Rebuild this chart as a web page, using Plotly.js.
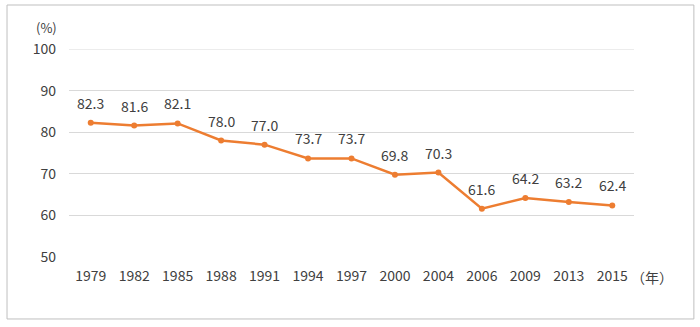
<!DOCTYPE html>
<html>
<head>
<meta charset="utf-8">
<script src="https://cdn.plot.ly/plotly-3.0.1.min.js"></script>
<style>
html,body{margin:0;padding:0;background:#fff;}
#chart{width:700px;height:327px;}
</style>
</head>
<body>
<div id="chart"></div>
<script>
const years = ['1979','1982','1985','1988','1991','1994','1997','2000','2004','2006','2009','2013','2015'];
const values = [82.3, 81.6, 82.1, 78.0, 77.0, 73.7, 73.7, 69.8, 70.3, 61.6, 64.2, 63.2, 62.4];
const yTicks = [50, 60, 70, 80, 90, 100];

const font = {family: '"Noto Sans CJK JP", "Noto Sans", sans-serif', size: 14, color: '#404040'};
const smallFont = {family: '"Noto Sans CJK JP", "Noto Sans", sans-serif', size: 13, color: '#404040'};

const trace = {
  x: years,
  y: values,
  type: 'scatter',
  mode: 'lines+markers',
  line: {color: '#ED7D31', width: 2.5},
  marker: {color: '#ED7D31', size: 6},
  hoverinfo: 'none'
};

const labels = years.map((yr, i) => ({
  x: i, y: values[i], xref: 'x', yref: 'y',
  text: values[i].toFixed(1), showarrow: false,
  yshift: 20, font: font
}));

const layout = {
  width: 700, height: 327,
  margin: {l: 69, r: 66, t: 49, b: 70},
  paper_bgcolor: '#fff', plot_bgcolor: '#fff',
  showlegend: false,
  font: font,
  xaxis: {
    type: 'category', range: [-0.5, years.length - 0.5], autorange: false,
    showgrid: false, zeroline: false, showline: false,
    ticks: '', tickfont: font, ticklabelstandoff: 9
  },
  yaxis: {
    range: [50, 100], autorange: false, tickvals: yTicks, showgrid: true, gridcolor: '#d9d9d9', gridwidth: 1,
    zeroline: false, showline: false, ticks: '', tickfont: font, ticklabelstandoff: 12
  },
  annotations: labels.concat([
    {xref: 'paper', yref: 'paper', x: -0.04, y: 1.105, xanchor: 'center', yanchor: 'middle',
     text: '(%)', showarrow: false, font: smallFont},
    {xref: 'paper', yref: 'paper', x: 1.032, y: -0.094, xanchor: 'center', yanchor: 'middle',
     text: '（年）', showarrow: false, font: font}
  ]),
  shapes: [{
    type: 'rect', xref: 'paper', yref: 'paper',
    x0: -0.1097, x1: 1.106, y0: -0.298, y1: 1.2115,
    line: {color: '#bfbfbf', width: 1}, fillcolor: 'rgba(0,0,0,0)', layer: 'below'
  }, {
    type: 'line', xref: 'paper', yref: 'y', x0: 0, x1: 1, y0: 100, y1: 100,
    line: {color: '#d9d9d9', width: 1}, layer: 'below'
  }]
};

Plotly.newPlot('chart', [trace], layout, {displayModeBar: false, staticPlot: true});
</script>
</body>
</html>
